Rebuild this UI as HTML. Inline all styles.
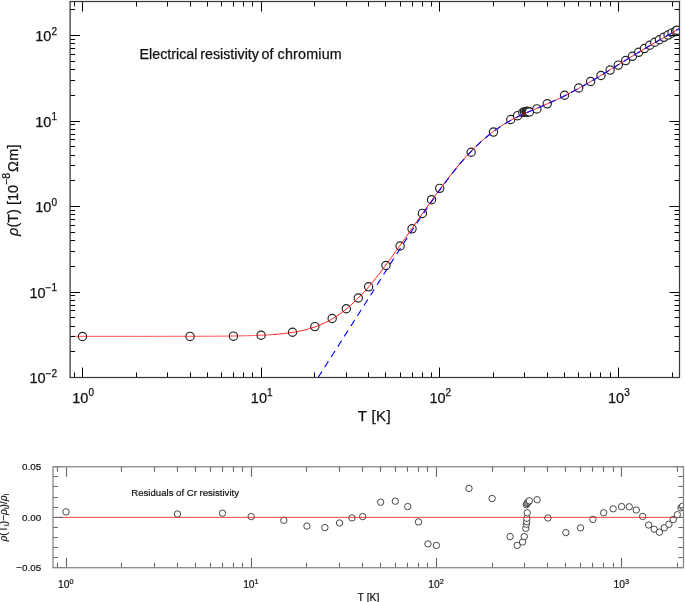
<!DOCTYPE html><html><head><meta charset="utf-8"><title>Electrical resistivity of chromium</title><style>html,body{margin:0;padding:0;background:#fff;width:685px;height:602px;overflow:hidden}svg{display:block;will-change:transform;filter:blur(0.3px)}text{font-family:"Liberation Sans",sans-serif}</style></head><body>
<svg width="685" height="602" viewBox="0 0 685 602">
<defs><clipPath id="c1"><rect x="70.1" y="1.5" width="609.4" height="376"/></clipPath><clipPath id="c2"><rect x="53" y="466.8" width="630.5" height="100.9"/></clipPath></defs>
<g clip-path="url(#c1)">
<g fill="#fff" stroke="#222" stroke-width="1.15"><circle cx="82.5" cy="336.53" r="4.15"/><circle cx="190.03" cy="336.4" r="4.15"/><circle cx="233.43" cy="336.15" r="4.15"/><circle cx="261.1" cy="335.28" r="4.15"/><circle cx="292.55" cy="332.28" r="4.15"/><circle cx="314.86" cy="326.61" r="4.15"/><circle cx="332.17" cy="318.53" r="4.15"/><circle cx="346.31" cy="308.77" r="4.15"/><circle cx="358.27" cy="298.01" r="4.15"/><circle cx="368.63" cy="286.84" r="4.15"/><circle cx="385.94" cy="265.53" r="4.15"/><circle cx="400.08" cy="246.03" r="4.15"/><circle cx="412.03" cy="228.81" r="4.15"/><circle cx="422.39" cy="213.44" r="4.15"/><circle cx="431.53" cy="199.7" r="4.15"/><circle cx="439.7" cy="188.37" r="4.15"/><circle cx="471.15" cy="152.22" r="4.15"/><circle cx="493.46" cy="132.08" r="4.15"/><circle cx="510.77" cy="119.53" r="4.15"/><circle cx="517.6" cy="115.69" r="4.15"/><circle cx="522.83" cy="112.47" r="4.15"/><circle cx="524.47" cy="111.94" r="4.15"/><circle cx="525.91" cy="111.62" r="4.15"/><circle cx="526.49" cy="111.52" r="4.15"/><circle cx="526.49" cy="112.23" r="4.15"/><circle cx="526.78" cy="111.48" r="4.15"/><circle cx="526.97" cy="111.53" r="4.15"/><circle cx="527.07" cy="112.03" r="4.15"/><circle cx="527.26" cy="111.6" r="4.15"/><circle cx="527.84" cy="111.73" r="4.15"/><circle cx="528.61" cy="111.43" r="4.15"/><circle cx="529.39" cy="112.03" r="4.15"/><circle cx="536.87" cy="108.91" r="4.15"/><circle cx="547.23" cy="103.81" r="4.15"/><circle cx="564.54" cy="95.24" r="4.15"/><circle cx="578.68" cy="87.97" r="4.15"/><circle cx="590.63" cy="81.47" r="4.15"/><circle cx="600.99" cy="75.53" r="4.15"/><circle cx="610.13" cy="70.09" r="4.15"/><circle cx="618.3" cy="65.12" r="4.15"/><circle cx="625.69" cy="60.55" r="4.15"/><circle cx="632.44" cy="56.29" r="4.15"/><circle cx="638.65" cy="52.29" r="4.15"/><circle cx="644.4" cy="48.54" r="4.15"/><circle cx="649.75" cy="45.26" r="4.15"/><circle cx="654.76" cy="42.25" r="4.15"/><circle cx="659.46" cy="39.72" r="4.15"/><circle cx="663.89" cy="37.3" r="4.15"/><circle cx="668.09" cy="35.05" r="4.15"/><circle cx="672.06" cy="32.91" r="4.15"/><circle cx="675.58" cy="31.09" r="4.15"/><circle cx="677.03" cy="30.29" r="4.15"/></g>
<polyline points="65.19,336.34 66.08,336.34 66.97,336.34 67.86,336.34 68.75,336.34 69.63,336.34 70.52,336.34 71.41,336.34 72.3,336.34 73.19,336.34 74.08,336.34 74.96,336.34 75.85,336.34 76.74,336.34 77.63,336.34 78.52,336.34 79.41,336.34 80.3,336.34 81.18,336.34 82.07,336.34 82.96,336.34 83.85,336.34 84.74,336.34 85.63,336.34 86.51,336.34 87.4,336.34 88.29,336.34 89.18,336.34 90.07,336.34 90.96,336.34 91.84,336.34 92.73,336.34 93.62,336.34 94.51,336.34 95.4,336.34 96.29,336.34 97.18,336.34 98.06,336.34 98.95,336.34 99.84,336.34 100.73,336.34 101.62,336.34 102.51,336.34 103.39,336.34 104.28,336.34 105.17,336.34 106.06,336.34 106.95,336.34 107.84,336.33 108.73,336.33 109.61,336.33 110.5,336.33 111.39,336.33 112.28,336.33 113.17,336.33 114.06,336.33 114.94,336.33 115.83,336.33 116.72,336.33 117.61,336.33 118.5,336.33 119.39,336.33 120.27,336.33 121.16,336.33 122.05,336.33 122.94,336.33 123.83,336.33 124.72,336.33 125.61,336.33 126.49,336.33 127.38,336.33 128.27,336.33 129.16,336.33 130.05,336.33 130.94,336.33 131.82,336.33 132.71,336.33 133.6,336.33 134.49,336.33 135.38,336.33 136.27,336.33 137.15,336.33 138.04,336.33 138.93,336.33 139.82,336.33 140.71,336.33 141.6,336.33 142.49,336.33 143.37,336.33 144.26,336.33 145.15,336.33 146.04,336.33 146.93,336.33 147.82,336.33 148.7,336.33 149.59,336.33 150.48,336.33 151.37,336.33 152.26,336.33 153.15,336.33 154.04,336.32 154.92,336.32 155.81,336.32 156.7,336.32 157.59,336.32 158.48,336.32 159.37,336.32 160.25,336.32 161.14,336.32 162.03,336.32 162.92,336.32 163.81,336.32 164.7,336.32 165.58,336.32 166.47,336.32 167.36,336.32 168.25,336.31 169.14,336.31 170.03,336.31 170.92,336.31 171.8,336.31 172.69,336.31 173.58,336.31 174.47,336.31 175.36,336.31 176.25,336.31 177.13,336.31 178.02,336.3 178.91,336.3 179.8,336.3 180.69,336.3 181.58,336.3 182.46,336.3 183.35,336.3 184.24,336.29 185.13,336.29 186.02,336.29 186.91,336.29 187.8,336.29 188.68,336.29 189.57,336.28 190.46,336.28 191.35,336.28 192.24,336.28 193.13,336.27 194.01,336.27 194.9,336.27 195.79,336.27 196.68,336.26 197.57,336.26 198.46,336.26 199.35,336.26 200.23,336.25 201.12,336.25 202.01,336.25 202.9,336.24 203.79,336.24 204.68,336.24 205.56,336.23 206.45,336.23 207.34,336.22 208.23,336.22 209.12,336.21 210.01,336.21 210.89,336.21 211.78,336.2 212.67,336.19 213.56,336.19 214.45,336.18 215.34,336.18 216.23,336.17 217.11,336.17 218,336.16 218.89,336.15 219.78,336.15 220.67,336.14 221.56,336.13 222.44,336.12 223.33,336.11 224.22,336.11 225.11,336.1 226,336.09 226.89,336.08 227.77,336.07 228.66,336.06 229.55,336.05 230.44,336.04 231.33,336.03 232.22,336.01 233.11,336 233.99,335.99 234.88,335.98 235.77,335.96 236.66,335.95 237.55,335.93 238.44,335.92 239.32,335.9 240.21,335.88 241.1,335.87 241.99,335.85 242.88,335.83 243.77,335.81 244.66,335.79 245.54,335.77 246.43,335.75 247.32,335.73 248.21,335.7 249.1,335.68 249.99,335.65 250.87,335.63 251.76,335.6 252.65,335.57 253.54,335.55 254.43,335.52 255.32,335.48 256.2,335.45 257.09,335.42 257.98,335.38 258.87,335.35 259.76,335.31 260.65,335.27 261.54,335.23 262.42,335.19 263.31,335.15 264.2,335.1 265.09,335.06 265.98,335.01 266.87,334.96 267.75,334.91 268.64,334.85 269.53,334.8 270.42,334.74 271.31,334.68 272.2,334.62 273.08,334.55 273.97,334.49 274.86,334.42 275.75,334.35 276.64,334.27" fill="none" stroke="#ff0000" stroke-width="0.75"/>
<polyline points="273.97,334.49 274.86,334.42 275.75,334.35 276.64,334.27 277.53,334.19 278.42,334.12 279.3,334.03 280.19,333.95 281.08,333.86 281.97,333.77 282.86,333.67 283.75,333.57 284.63,333.47 285.52,333.37 286.41,333.26 287.3,333.14 288.19,333.03 289.08,332.91 289.97,332.78 290.85,332.65 291.74,332.52 292.63,332.38 293.52,332.24 294.41,332.09 295.3,331.93 296.18,331.78 297.07,331.61 297.96,331.44 298.85,331.27 299.74,331.09 300.63,330.9 301.51,330.71 302.4,330.51 303.29,330.3 304.18,330.09 305.07,329.87 305.96,329.64 306.85,329.41 307.73,329.17 308.62,328.92 309.51,328.66 310.4,328.4 311.29,328.12 312.18,327.84 313.06,327.55 313.95,327.26 314.84,326.95 315.73,326.63 316.62,326.31 317.51,325.97 318.39,325.63 319.28,325.27 320.17,324.91 321.06,324.53 321.95,324.15 322.84,323.75 323.73,323.35 324.61,322.93 325.5,322.5 326.39,322.06 327.28,321.61 328.17,321.15 329.06,320.67 329.94,320.19 330.83,319.69 331.72,319.18 332.61,318.66 333.5,318.12 334.39,317.57 335.28,317.01 336.16,316.44 337.05,315.86 337.94,315.26 338.83,314.65 339.72,314.03 340.61,313.39 341.49,312.74 342.38,312.08 343.27,311.4 344.16,310.71 345.05,310.01 345.94,309.29 346.82,308.57 347.71,307.83 348.6,307.07 349.49,306.3 350.38,305.52 351.27,304.73 352.16,303.93 353.04,303.11 353.93,302.28 354.82,301.43 355.71,300.58 356.6,299.71 357.49,298.83 358.37,297.93 359.26,297.03 360.15,296.11 361.04,295.19 361.93,294.25 362.82,293.3 363.7,292.34 364.59,291.37 365.48,290.39 366.37,289.39 367.26,288.39 368.15,287.37 369.04,286.35 369.92,285.31 370.81,284.26 371.7,283.2 372.59,282.13 373.48,281.05 374.37,279.95 375.25,278.85 376.14,277.74 377.03,276.62 377.92,275.49 378.81,274.36 379.7,273.21 380.59,272.06 381.47,270.9 382.36,269.73 383.25,268.56 384.14,267.38 385.03,266.2 385.92,265.01 386.8,263.81 387.69,262.61 388.58,261.41 389.47,260.2 390.36,258.98 391.25,257.76 392.13,256.54 393.02,255.31 393.91,254.08 394.8,252.84 395.69,251.6 396.58,250.36 397.47,249.12 398.35,247.87 399.24,246.62 400.13,245.37 401.02,244.11 401.91,242.85 402.8,241.59 403.68,240.33 404.57,239.07 405.46,237.8 406.35,236.54 407.24,235.27 408.13,234 409.01,232.73 409.9,231.46 410.79,230.19 411.68,228.92 412.57,227.65 413.46,226.38 414.35,225.11 415.23,223.84 416.12,222.57 417.01,221.3 417.9,220.03 418.79,218.76 419.68,217.49 420.56,216.22 421.45,214.95 422.34,213.69 423.23,212.42 424.12,211.16 425.01,209.9 425.9,208.64 426.78,207.38 427.67,206.12 428.56,204.87 429.45,203.61 430.34,202.37 431.23,201.12 432.11,199.88 433,198.64 433.89,197.4 434.78,196.17 435.67,194.94 436.56,193.72 437.44,192.5 438.33,191.28 439.22,190.07 440.11,188.87 441,187.67 441.89,186.47 442.78,185.28 443.66,184.1 444.55,182.92 445.44,181.75 446.33,180.58 447.22,179.42 448.11,178.27 448.99,177.12 449.88,175.98 450.77,174.85 451.66,173.72 452.55,172.6 453.44,171.49 454.33,170.39 455.21,169.29 456.1,168.21 456.99,167.13 457.88,166.06 458.77,164.99 459.66,163.94 460.54,162.9 461.43,161.86 462.32,160.84 463.21,159.82 464.1,158.81 464.99,157.81 465.87,156.83 466.76,155.85 467.65,154.88 468.54,153.92 469.43,152.98 470.32,152.04 471.21,151.12 472.09,150.2 472.98,149.3 473.87,148.41 474.76,147.53 475.65,146.66 476.54,145.8 477.42,144.95 478.31,144.11 479.2,143.28 480.09,142.47 480.98,141.66 481.87,140.86 482.75,140.08 483.64,139.3 484.53,138.53 485.42,137.78 486.31,137.03 487.2,136.3 488.09,135.57 488.97,134.86 489.86,134.15 490.75,133.46 491.64,132.77 492.53,132.1 493.42,131.43 494.3,130.77 495.19,130.12 496.08,129.49 496.97,128.86 497.86,128.24 498.75,127.63 499.64,127.03 500.52,126.44 501.41,125.85 502.3,125.28 503.19,124.72 504.08,124.16 504.97,123.61 505.85,123.08 506.74,122.55 507.63,122.03 508.52,121.51 509.41,121.01 510.3,120.52 511.18,120.03 512.07,119.55 512.96,119.08 513.85,118.62 514.74,118.16 515.63,117.71 516.52,117.27 517.4,116.84 518.29,116.41 519.18,115.98 520.07,115.56 520.96,115.15 521.85,114.74 522.73,114.34 523.62,113.94 524.51,113.54 525.4,113.15 526.29,112.76 527.18,112.38 528.06,111.99 528.95,111.61 529.84,111.23 530.73,110.86 531.62,110.48 532.51,110.11 533.4,109.73 534.28,109.36 535.17,108.99 536.06,108.61 536.95,108.24 537.84,107.86 538.73,107.49 539.61,107.11 540.5,106.74 541.39,106.36 542.28,105.98 543.17,105.6 544.06,105.21 544.95,104.83 545.83,104.45 546.72,104.06 547.61,103.67 548.5,103.28 549.39,102.89 550.28,102.49 551.16,102.1 552.05,101.7 552.94,101.29 553.83,100.89 554.72,100.49 555.61,100.08 556.49,99.67 557.38,99.25 558.27,98.83 559.16,98.41 560.05,97.99 560.94,97.57 561.83,97.14 562.71,96.7 563.6,96.27 564.49,95.83 565.38,95.39 566.27,94.94 567.16,94.49 568.04,94.04 568.93,93.58 569.82,93.12 570.71,92.66 571.6,92.19 572.49,91.72 573.37,91.25 574.26,90.77 575.15,90.3 576.04,89.81 576.93,89.33 577.82,88.84 578.71,88.35 579.59,87.86 580.48,87.37 581.37,86.87 582.26,86.37 583.15,85.87 584.04,85.36 584.92,84.86 585.81,84.35 586.7,83.84 587.59,83.32 588.48,82.81 589.37,82.29 590.26,81.77 591.14,81.25 592.03,80.73 592.92,80.2 593.81,79.68 594.7,79.15 595.59,78.62 596.47,78.09 597.36,77.56 598.25,77.02 599.14,76.49 600.03,75.95 600.92,75.41 601.8,74.87 602.69,74.33 603.58,73.79 604.47,73.25 605.36,72.71 606.25,72.17 607.14,71.62 608.02,71.08 608.91,70.53 609.8,69.98 610.69,69.44 611.58,68.89 612.47,68.34 613.35,67.79 614.24,67.24 615.13,66.69 616.02,66.14 616.91,65.59 617.8,65.04 618.68,64.49 619.57,63.94 620.46,63.4 621.35,62.85 622.24,62.3 623.13,61.75 624.02,61.2 624.9,60.65 625.79,60.1 626.68,59.56 627.57,59.01 628.46,58.46 629.35,57.92 630.23,57.37 631.12,56.83 632.01,56.28 632.9,55.74 633.79,55.2 634.68,54.66 635.57,54.12 636.45,53.58 637.34,53.05 638.23,52.51 639.12,51.98 640.01,51.44 640.9,50.91 641.78,50.38 642.67,49.85 643.56,49.33 644.45,48.8 645.34,48.28 646.23,47.76 647.11,47.23 648,46.72 648.89,46.2 649.78,45.68 650.67,45.17 651.56,44.65 652.45,44.14 653.33,43.63 654.22,43.11 655.11,42.6 656,42.09 656.89,41.58 657.78,41.07 658.66,40.56 659.55,40.05 660.44,39.54 661.33,39.03 662.22,38.52 663.11,38.01 663.99,37.5 664.88,36.99 665.77,36.48 666.66,35.96 667.55,35.45 668.44,34.93 669.33,34.42 670.21,33.9 671.1,33.38 671.99,32.86 672.88,32.34 673.77,31.82 674.66,31.3 675.54,30.77 676.43,30.24 677.32,29.71 678.21,29.18 679.1,28.65 679.99,28.11 680.88,27.57 681.76,27.03 682.65,26.49 683.54,25.94 684.43,25.39 685.32,24.84 686.21,24.28" fill="none" stroke="#ff0000" stroke-width="0.95"/>
<polyline points="318.09,377.5 318.39,377.02 319.28,375.62 320.17,374.23 321.06,372.83 321.95,371.44 322.84,370.04 323.73,368.65 324.61,367.25 325.5,365.86 326.39,364.46 327.28,363.07 328.17,361.67 329.06,360.28 329.94,358.88 330.83,357.49 331.72,356.09 332.61,354.7 333.5,353.3 334.39,351.91 335.28,350.51 336.16,349.12 337.05,347.72 337.94,346.33 338.83,344.93 339.72,343.54 340.61,342.14 341.49,340.75 342.38,339.35 343.27,337.96 344.16,336.56 345.05,335.17 345.94,333.77 346.82,332.38 347.71,330.98 348.6,329.59 349.49,328.19 350.38,326.8 351.27,325.4 352.16,324.01 353.04,322.61 353.93,321.22 354.82,319.82 355.71,318.43 356.6,317.03 357.49,315.64 358.37,314.24 359.26,312.85 360.15,311.46 361.04,310.07 361.93,308.67 362.82,307.28 363.7,305.89 364.59,304.5 365.48,303.11 366.37,301.72 367.26,300.33 368.15,298.93 369.04,297.54 369.92,296.14 370.81,294.74 371.7,293.34 372.59,291.94 373.48,290.54 374.37,289.13 375.25,287.73 376.14,286.33 377.03,284.92 377.92,283.52 378.81,282.11 379.7,280.7 380.59,279.3 381.47,277.89 382.36,276.49 383.25,275.09 384.14,273.69 385.03,272.29 385.92,270.89 386.8,269.49 387.69,268.1 388.58,266.7 389.47,265.31 390.36,263.92 391.25,262.53 392.13,261.14 393.02,259.75 393.91,258.37 394.8,256.99 395.69,255.6 396.58,254.22 397.47,252.84 398.35,251.47 399.24,250.09 400.13,248.72 401.02,247.34 401.91,245.97 402.8,244.61 403.68,243.24 404.57,241.88 405.46,240.51 406.35,239.15 407.24,237.8 408.13,236.44 409.01,235.09 409.9,233.74 410.79,232.39 411.68,231.04 412.57,229.7 413.46,228.35 414.35,227.01 415.23,225.68 416.12,224.34 417.01,223.01 417.9,221.68 418.79,220.36 419.68,219.03 420.56,217.71 421.45,216.39 422.34,215.08 423.23,213.77 424.12,212.46 425.01,211.15 425.9,209.85 426.78,208.55 427.67,207.25 428.56,205.96 429.45,204.67 430.34,203.39 431.23,202.11 432.11,200.83 433,199.56 433.89,198.29 434.78,197.03 435.67,195.78 436.56,194.53 437.44,193.28 438.33,192.04 439.22,190.8 440.11,189.57 441,188.35 441.89,187.13 442.78,185.92 443.66,184.72 444.55,183.52 445.44,182.33 446.33,181.15 447.22,179.97 448.11,178.8 448.99,177.63 449.88,176.48 450.77,175.33 451.66,174.19 452.55,173.06 453.44,171.93 454.33,170.82 455.21,169.71 456.1,168.61 456.99,167.52 457.88,166.44 458.77,165.36 459.66,164.3 460.54,163.25 461.43,162.2 462.32,161.17 463.21,160.14 464.1,159.12 464.99,158.12 465.87,157.12 466.76,156.14 467.65,155.16 468.54,154.2 469.43,153.25 470.32,152.3 471.21,151.37 472.09,150.45 472.98,149.54 473.87,148.65 474.76,147.76 475.65,146.88 476.54,146.02 477.42,145.16 478.31,144.32 479.2,143.49 480.09,142.67 480.98,141.86 481.87,141.05 482.75,140.26 483.64,139.49 484.53,138.72 485.42,137.96 486.31,137.21 487.2,136.47 488.09,135.74 488.97,135.02 489.86,134.31 490.75,133.62 491.64,132.93 492.53,132.25 493.42,131.58 494.3,130.92 495.19,130.27 496.08,129.63 496.97,129 497.86,128.38 498.75,127.76 499.64,127.16 500.52,126.57 501.41,125.98 502.3,125.41 503.19,124.84 504.08,124.28 504.97,123.73 505.85,123.19 506.74,122.66 507.63,122.14 508.52,121.63 509.41,121.12 510.3,120.63 511.18,120.14 512.07,119.66 512.96,119.19 513.85,118.72 514.74,118.27 515.63,117.82 516.52,117.37 517.4,116.94 518.29,116.51 519.18,116.08 520.07,115.66 520.96,115.25 521.85,114.84 522.73,114.43 523.62,114.03 524.51,113.64 525.4,113.24 526.29,112.85 527.18,112.47 528.06,112.08 528.95,111.7 529.84,111.32 530.73,110.94 531.62,110.57 532.51,110.19 533.4,109.82 534.28,109.44 535.17,109.07 536.06,108.69 536.95,108.32 537.84,107.94 538.73,107.57 539.61,107.19 540.5,106.81 541.39,106.43 542.28,106.05 543.17,105.67 544.06,105.29 544.95,104.9 545.83,104.52 546.72,104.13 547.61,103.74 548.5,103.35 549.39,102.96 550.28,102.56 551.16,102.16 552.05,101.76 552.94,101.36 553.83,100.96 554.72,100.55 555.61,100.14 556.49,99.73 557.38,99.31 558.27,98.9 559.16,98.48 560.05,98.05 560.94,97.63 561.83,97.2 562.71,96.76 563.6,96.33 564.49,95.89 565.38,95.44 566.27,95 567.16,94.54 568.04,94.09 568.93,93.63 569.82,93.17 570.71,92.71 571.6,92.24 572.49,91.77 573.37,91.3 574.26,90.82 575.15,90.34 576.04,89.86 576.93,89.38 577.82,88.89 578.71,88.4 579.59,87.91 580.48,87.41 581.37,86.91 582.26,86.41 583.15,85.91 584.04,85.41 584.92,84.9 585.81,84.39 586.7,83.88 587.59,83.36 588.48,82.85 589.37,82.33 590.26,81.81 591.14,81.29 592.03,80.77 592.92,80.24 593.81,79.71 594.7,79.19 595.59,78.66 596.47,78.12 597.36,77.59 598.25,77.06 599.14,76.52 600.03,75.98 600.92,75.45 601.8,74.91 602.69,74.37 603.58,73.83 604.47,73.28 605.36,72.74 606.25,72.2 607.14,71.65 608.02,71.1 608.91,70.56 609.8,70.01 610.69,69.46 611.58,68.92 612.47,68.37 613.35,67.82 614.24,67.27 615.13,66.72 616.02,66.17 616.91,65.62 617.8,65.07 618.68,64.52 619.57,63.97 620.46,63.42 621.35,62.87 622.24,62.32 623.13,61.77 624.02,61.22 624.9,60.67 625.79,60.12 626.68,59.58 627.57,59.03 628.46,58.48 629.35,57.94 630.23,57.39 631.12,56.85 632.01,56.3 632.9,55.76 633.79,55.22 634.68,54.68 635.57,54.14 636.45,53.6 637.34,53.06 638.23,52.53 639.12,51.99 640.01,51.46 640.9,50.93 641.78,50.4 642.67,49.87 643.56,49.34 644.45,48.82 645.34,48.29 646.23,47.77 647.11,47.25 648,46.73 648.89,46.21 649.78,45.7 650.67,45.18 651.56,44.67 652.45,44.15 653.33,43.64 654.22,43.13 655.11,42.62 656,42.11 656.89,41.59 657.78,41.08 658.66,40.57 659.55,40.06 660.44,39.55 661.33,39.04 662.22,38.53 663.11,38.02 663.99,37.51 664.88,37 665.77,36.49 666.66,35.97 667.55,35.46 668.44,34.95 669.33,34.43 670.21,33.91 671.1,33.39 671.99,32.87 672.88,32.35 673.77,31.83 674.66,31.31 675.54,30.78 676.43,30.25 677.32,29.72 678.21,29.19 679.1,28.66 679.99,28.12 680.88,27.58 681.76,27.04 682.65,26.5 683.54,25.95 684.43,25.4 685.32,24.85 686.21,24.29" fill="none" stroke="#0000ff" stroke-width="1.1" stroke-dasharray="7 5.2"/>
</g>
<path d="M74.5 377.5v-5M74.5 1.5v5M82.5 377.5v-10M82.5 1.5v10M136.5 377.5v-5M136.5 1.5v5M167.5 377.5v-5M167.5 1.5v5M190.5 377.5v-5M190.5 1.5v5M207.5 377.5v-5M207.5 1.5v5M221.5 377.5v-5M221.5 1.5v5M233.5 377.5v-5M233.5 1.5v5M243.5 377.5v-5M243.5 1.5v5M252.5 377.5v-5M252.5 1.5v5M261.5 377.5v-10M261.5 1.5v10M314.5 377.5v-5M314.5 1.5v5M346.5 377.5v-5M346.5 1.5v5M368.5 377.5v-5M368.5 1.5v5M385.5 377.5v-5M385.5 1.5v5M400.5 377.5v-5M400.5 1.5v5M412.5 377.5v-5M412.5 1.5v5M422.5 377.5v-5M422.5 1.5v5M431.5 377.5v-5M431.5 1.5v5M439.5 377.5v-10M439.5 1.5v10M493.5 377.5v-5M493.5 1.5v5M524.5 377.5v-5M524.5 1.5v5M547.5 377.5v-5M547.5 1.5v5M564.5 377.5v-5M564.5 1.5v5M578.5 377.5v-5M578.5 1.5v5M590.5 377.5v-5M590.5 1.5v5M600.5 377.5v-5M600.5 1.5v5M610.5 377.5v-5M610.5 1.5v5M618.5 377.5v-10M618.5 1.5v10M672.5 377.5v-5M672.5 1.5v5M70.1 377.5h10M679.5 377.5h-10M70.1 351.5h5M679.5 351.5h-5M70.1 336.5h5M679.5 336.5h-5M70.1 326.5h5M679.5 326.5h-5M70.1 317.5h5M679.5 317.5h-5M70.1 310.5h5M679.5 310.5h-5M70.1 305.5h5M679.5 305.5h-5M70.1 300.5h5M679.5 300.5h-5M70.1 295.5h5M679.5 295.5h-5M70.1 292.5h10M679.5 292.5h-10M70.1 266.5h5M679.5 266.5h-5M70.1 251.5h5M679.5 251.5h-5M70.1 240.5h5M679.5 240.5h-5M70.1 232.5h5M679.5 232.5h-5M70.1 225.5h5M679.5 225.5h-5M70.1 219.5h5M679.5 219.5h-5M70.1 214.5h5M679.5 214.5h-5M70.1 210.5h5M679.5 210.5h-5M70.1 206.5h10M679.5 206.5h-10M70.1 180.5h5M679.5 180.5h-5M70.1 165.5h5M679.5 165.5h-5M70.1 155.5h5M679.5 155.5h-5M70.1 146.5h5M679.5 146.5h-5M70.1 139.5h5M679.5 139.5h-5M70.1 134.5h5M679.5 134.5h-5M70.1 129.5h5M679.5 129.5h-5M70.1 124.5h5M679.5 124.5h-5M70.1 121.5h10M679.5 121.5h-10M70.1 95.5h5M679.5 95.5h-5M70.1 80.5h5M679.5 80.5h-5M70.1 69.5h5M679.5 69.5h-5M70.1 61.5h5M679.5 61.5h-5M70.1 54.5h5M679.5 54.5h-5M70.1 48.5h5M679.5 48.5h-5M70.1 43.5h5M679.5 43.5h-5M70.1 39.5h5M679.5 39.5h-5M70.1 35.5h10M679.5 35.5h-10M70.1 9.5h5M679.5 9.5h-5" stroke="#000" stroke-width="1.0" fill="none"/>
<rect x="70.1" y="1.5" width="609.4" height="376" fill="none" stroke="#3a3a3a" stroke-width="1.25"/>
<g fill="#111" stroke="#111" stroke-width="0.25">
<text x="57" y="383.3" text-anchor="end" font-size="14.5">10<tspan dy="-6.7" font-size="10">−2</tspan></text>
<text x="57" y="297.8" text-anchor="end" font-size="14.5">10<tspan dy="-6.7" font-size="10">−1</tspan></text>
<text x="57" y="212.3" text-anchor="end" font-size="14.5">10<tspan dy="-6.7" font-size="10">0</tspan></text>
<text x="57" y="126.8" text-anchor="end" font-size="14.5">10<tspan dy="-6.7" font-size="10">1</tspan></text>
<text x="57" y="41.3" text-anchor="end" font-size="14.5">10<tspan dy="-6.7" font-size="10">2</tspan></text>
<text x="83.1" y="403.2" text-anchor="middle" font-size="14.5">10<tspan dy="-6.9" font-size="10">0</tspan></text>
<text x="261.7" y="403.2" text-anchor="middle" font-size="14.5">10<tspan dy="-6.9" font-size="10">1</tspan></text>
<text x="440.3" y="403.2" text-anchor="middle" font-size="14.5">10<tspan dy="-6.9" font-size="10">2</tspan></text>
<text x="618.9" y="403.2" text-anchor="middle" font-size="14.5">10<tspan dy="-6.9" font-size="10">3</tspan></text>
<text y="58.8" font-size="14.3"><tspan x="139.5">Electrical</tspan> <tspan x="200.2">resistivity</tspan> <tspan x="261.6">of</tspan> <tspan x="277.6" letter-spacing="0.2">chromium</tspan></text>
<text x="374.4" y="421.2" font-size="15" letter-spacing="0.4" text-anchor="middle">T [K]</text>
<text transform="translate(17.6,190.0) rotate(-90)" text-anchor="middle" font-size="14.5"><tspan font-style="italic">ρ</tspan>(T) [10<tspan dy="-7.5" font-size="10.5">−8</tspan><tspan dy="7.5" dx="0.9" letter-spacing="0.3">Ωm]</tspan></text>
</g>
<g clip-path="url(#c2)">
<g fill="#fff" stroke="#333" stroke-width="0.9"><circle cx="66" cy="511.9" r="3.2"/><circle cx="177.5" cy="514" r="3.2"/><circle cx="222.51" cy="513.2" r="3.2"/><circle cx="251.2" cy="516.6" r="3.2"/><circle cx="283.81" cy="520.3" r="3.2"/><circle cx="306.95" cy="526.1" r="3.2"/><circle cx="324.9" cy="527.6" r="3.2"/><circle cx="339.56" cy="523" r="3.2"/><circle cx="351.96" cy="517.9" r="3.2"/><circle cx="362.7" cy="516.6" r="3.2"/><circle cx="380.65" cy="502.2" r="3.2"/><circle cx="395.31" cy="501.2" r="3.2"/><circle cx="407.71" cy="506.6" r="3.2"/><circle cx="418.45" cy="521.9" r="3.2"/><circle cx="427.93" cy="543.9" r="3.2"/><circle cx="436.4" cy="545.4" r="3.2"/><circle cx="469.01" cy="488.4" r="3.2"/><circle cx="492.15" cy="498.5" r="3.2"/><circle cx="510.1" cy="536.6" r="3.2"/><circle cx="517.18" cy="545.4" r="3.2"/><circle cx="522.6" cy="542" r="3.2"/><circle cx="524.3" cy="536.6" r="3.2"/><circle cx="525.8" cy="528.3" r="3.2"/><circle cx="526.4" cy="524.2" r="3.2"/><circle cx="526.4" cy="504.8" r="3.2"/><circle cx="526.7" cy="521.7" r="3.2"/><circle cx="526.9" cy="518.3" r="3.2"/><circle cx="527" cy="503.5" r="3.2"/><circle cx="527.2" cy="512.8" r="3.2"/><circle cx="527.8" cy="502.5" r="3.2"/><circle cx="528.6" cy="501.5" r="3.2"/><circle cx="529.4" cy="500.8" r="3.2"/><circle cx="537.16" cy="499.7" r="3.2"/><circle cx="547.9" cy="518" r="3.2"/><circle cx="565.85" cy="532.6" r="3.2"/><circle cx="580.51" cy="527.9" r="3.2"/><circle cx="592.91" cy="519.4" r="3.2"/><circle cx="603.65" cy="512.8" r="3.2"/><circle cx="613.13" cy="508.8" r="3.2"/><circle cx="621.6" cy="506.6" r="3.2"/><circle cx="629.27" cy="506.8" r="3.2"/><circle cx="636.26" cy="510" r="3.2"/><circle cx="642.7" cy="516.4" r="3.2"/><circle cx="648.66" cy="525" r="3.2"/><circle cx="654.21" cy="529.2" r="3.2"/><circle cx="659.4" cy="532.2" r="3.2"/><circle cx="664.28" cy="527.8" r="3.2"/><circle cx="668.88" cy="524.3" r="3.2"/><circle cx="673.23" cy="519.6" r="3.2"/><circle cx="677.35" cy="514.7" r="3.2"/><circle cx="681" cy="507.8" r="3.2"/><circle cx="682.5" cy="506.3" r="3.2"/></g>
<line x1="53" x2="683.5" y1="517.35" y2="517.35" stroke="#ff0000" stroke-width="0.75"/>
</g>
<path d="M57.5 567.7v-5M57.5 466.8v5M66.5 567.7v-10M66.5 466.8v10M121.5 567.7v-5M121.5 466.8v5M154.5 567.7v-5M154.5 466.8v5M177.5 567.7v-5M177.5 466.8v5M195.5 567.7v-5M195.5 466.8v5M210.5 567.7v-5M210.5 466.8v5M222.5 567.7v-5M222.5 466.8v5M233.5 567.7v-5M233.5 466.8v5M242.5 567.7v-5M242.5 466.8v5M251.5 567.7v-10M251.5 466.8v10M306.5 567.7v-5M306.5 466.8v5M339.5 567.7v-5M339.5 466.8v5M362.5 567.7v-5M362.5 466.8v5M380.5 567.7v-5M380.5 466.8v5M395.5 567.7v-5M395.5 466.8v5M407.5 567.7v-5M407.5 466.8v5M418.5 567.7v-5M418.5 466.8v5M427.5 567.7v-5M427.5 466.8v5M436.5 567.7v-10M436.5 466.8v10M492.5 567.7v-5M492.5 466.8v5M524.5 567.7v-5M524.5 466.8v5M547.5 567.7v-5M547.5 466.8v5M565.5 567.7v-5M565.5 466.8v5M580.5 567.7v-5M580.5 466.8v5M592.5 567.7v-5M592.5 466.8v5M603.5 567.7v-5M603.5 466.8v5M613.5 567.7v-5M613.5 466.8v5M621.5 567.7v-10M621.5 466.8v10M677.5 567.7v-5M677.5 466.8v5M53 567.5h10M683.5 567.5h-10M53 557.5h5M683.5 557.5h-5M53 547.5h5M683.5 547.5h-5M53 537.5h5M683.5 537.5h-5M53 527.5h5M683.5 527.5h-5M53 517.5h10M683.5 517.5h-10M53 507.5h5M683.5 507.5h-5M53 497.5h5M683.5 497.5h-5M53 486.5h5M683.5 486.5h-5M53 476.5h5M683.5 476.5h-5M53 466.5h10M683.5 466.5h-10" stroke="#666" stroke-width="1.1" fill="none"/>
<rect x="53" y="466.8" width="630.5" height="100.9" fill="none" stroke="#888" stroke-width="1.3"/>
<g fill="#111" stroke="#111" stroke-width="0.2">
<text x="41.2" y="470.3" text-anchor="end" font-size="9.85">0.05</text>
<text x="41.2" y="520.75" text-anchor="end" font-size="9.85">0.00</text>
<text x="41.2" y="571.2" text-anchor="end" font-size="9.85">−0.05</text>
<text x="65.7" y="588.1" text-anchor="middle" font-size="10.3">10<tspan dy="-4.6" font-size="7.3">0</tspan></text>
<text x="250.9" y="588.1" text-anchor="middle" font-size="10.3">10<tspan dy="-4.6" font-size="7.3">1</tspan></text>
<text x="436.1" y="588.1" text-anchor="middle" font-size="10.3">10<tspan dy="-4.6" font-size="7.3">2</tspan></text>
<text x="621.3" y="588.1" text-anchor="middle" font-size="10.3">10<tspan dy="-4.6" font-size="7.3">3</tspan></text>
<text x="131.3" y="495.9" font-size="9.6">Residuals of Cr resistivity</text>
<text x="368.5" y="600.7" font-size="10.5" text-anchor="middle">T [K]</text>
<text transform="translate(7.4,517.6) rotate(-90)" text-anchor="middle" font-size="10.3"><tspan font-style="italic">ρ</tspan>(T<tspan dy="2" font-size="7">i</tspan><tspan dy="-2">)−</tspan><tspan font-style="italic">ρ</tspan><tspan dy="2" font-size="7">i</tspan><tspan dy="-2">)/</tspan><tspan font-style="italic">ρ</tspan><tspan dy="2" font-size="7">i</tspan></text>
</g>
</svg></body></html>
